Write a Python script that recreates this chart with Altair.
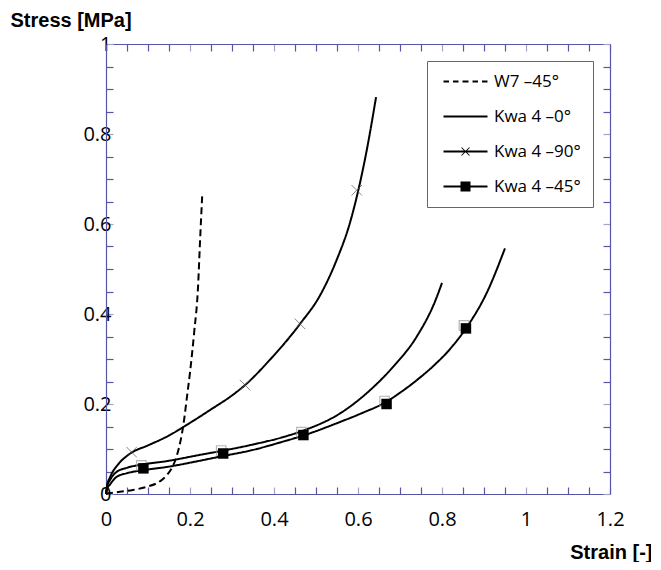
import altair as alt
import pandas as pd

# ---------------- data ----------------
series_names = ["W7 –45°", "Kwa 4 –0°", "Kwa 4 –90°", "Kwa 4 –45°"]
series_styles = ["dashed", "solid", "solid", "solid"]

w7_x = [0, 0.01, 0.033, 0.064, 0.097, 0.121, 0.135, 0.145, 0.155, 0.165, 0.173,
        0.18, 0.186, 0.192, 0.2, 0.21, 0.219, 0.224, 0.229]
w7_y = [0, 0.002, 0.005, 0.009, 0.016, 0.024, 0.033, 0.042, 0.055, 0.075, 0.1,
        0.13, 0.165, 0.21, 0.27, 0.36, 0.458, 0.564, 0.662]

k0_x = [0, 0.003, 0.0095, 0.025, 0.049, 0.089, 0.144, 0.224, 0.271, 0.35, 0.42,
        0.47, 0.557, 0.629, 0.684, 0.74, 0.783, 0.8]
k0_y = [0, 0.018, 0.031, 0.049, 0.058, 0.066, 0.073, 0.087, 0.095, 0.11, 0.126,
        0.141, 0.179, 0.231, 0.283, 0.35, 0.427, 0.469]

k90_x = [0, 0.003, 0.0095, 0.029, 0.049, 0.061, 0.1, 0.15, 0.2, 0.25, 0.3,
         0.331, 0.39, 0.462, 0.51, 0.55, 0.58, 0.6, 0.62, 0.643]
k90_y = [0, 0.02, 0.037, 0.066, 0.084, 0.092, 0.108, 0.13, 0.158, 0.188, 0.219,
         0.242, 0.298, 0.378, 0.442, 0.522, 0.6, 0.672, 0.76, 0.882]

k45_x = [0, 0.003, 0.0095, 0.025, 0.049, 0.089, 0.144, 0.224, 0.271, 0.35, 0.42,
         0.47, 0.557, 0.61, 0.664, 0.7, 0.74, 0.78, 0.819, 0.857, 0.906, 0.95]
k45_y = [0, 0.012, 0.021, 0.038, 0.046, 0.053, 0.06, 0.074, 0.083, 0.098, 0.116,
         0.13, 0.16, 0.18, 0.203, 0.225, 0.253, 0.285, 0.322, 0.368, 0.446, 0.546]

m90_x = [0.061, 0.331, 0.462, 0.597]
m90_y = [0.093, 0.242, 0.378, 0.675]

m45_x = [0.089, 0.279, 0.47, 0.668, 0.857]
m45_y = [0.057, 0.09, 0.131, 0.2, 0.368]

x_ticks = [round(i * 0.05, 2) for i in range(25)]
y_ticks = [round(i * 0.05, 2) for i in range(21)]

# ---------------- tables ----------------
rows = []
for name, style, xs, ys in zip(series_names, series_styles,
                               [w7_x, k0_x, k90_x, k45_x], [w7_y, k0_y, k90_y, k45_y]):
    for i, (a, b) in enumerate(zip(xs, ys)):
        rows.append({"series": name, "style": style, "strain": a, "stress": b, "order": i})
lines_df = pd.DataFrame(rows)
m90_df = pd.DataFrame({"strain": m90_x, "stress": m90_y})
m45_df = pd.DataFrame({"strain": m45_x, "stress": m45_y})

# ---------------- styling ----------------
FONT = "Open Sans, sans-serif"
TITLE_FONT = "Liberation Sans, Arial, sans-serif"
AXIS_BLUE = "#5656a8"
major = "abs(datum.value*5 - round(datum.value*5)) < 0.000001"
tick_color = {"condition": {"test": major, "value": "#a4a4c6"}, "value": AXIS_BLUE}
label_expr = f"({major}) ? format(datum.value, '~g') : ''"

x_scale = alt.Scale(domain=[0, 1.2], nice=False, zero=False)
y_scale = alt.Scale(domain=[0, 1], nice=False, zero=False)

common = dict(domainColor=AXIS_BLUE, domainWidth=1.2, tickColor=tick_color,
              tickWidth=1.2, tickSize={"expr": "-7"}, grid=False)

x_axis = alt.Axis(values=x_ticks, labelExpr=label_expr, labelFont=FONT, labelFontSize=20,
                  labelColor="black", labelPadding=22, labelFlush=False,
                  title="Strain [-]", titleFont=TITLE_FONT, titleFontSize=20,
                  titleFontWeight="bold", titleX=546, titleY=64, titleAlign="right",
                  titleBaseline="alphabetic", titleAnchor="end", **common)
y_axis = alt.Axis(values=y_ticks, labelExpr=label_expr, labelFont=FONT, labelFontSize=20,
                  labelColor="black", labelPadding=2, labelFlush=False,
                  title="Stress [MPa]", titleFont=TITLE_FONT, titleFontSize=20,
                  titleFontWeight="bold", titleAngle=0, titleX=-96, titleY=-18,
                  titleAlign="left", titleBaseline="alphabetic", titleAnchor="end", **common)
top_axis = alt.Axis(values=x_ticks, orient="top", labels=False, title=None, **common)
right_axis = alt.Axis(values=y_ticks, orient="right", labels=False, title=None, **common)

# legend glyphs: filled custom symbol paths (unit = sqrt(size)/2 = 5 px)
bar = "M-4.4,-0.2H4.4V0.2H-4.4Z"
p_dash = ("M-4.4,-0.2H-3.3V0.2H-4.4Z M-2.5,-0.2H-1.4V0.2H-2.5Z M-0.6,-0.2H0.6V0.2H-0.6Z "
          "M1.4,-0.2H2.5V0.2H1.4Z M3.3,-0.2H4.4V0.2H3.3Z")
p_solid = bar
p_x = bar + (" M-0.73,-0.87L0.87,0.73L0.73,0.87L-0.87,-0.73Z"
             " M-0.87,0.73L0.73,-0.87L0.87,-0.73L-0.73,0.87Z")
p_sq = bar + " M-1,-1H1V1H-1Z"

lines = alt.Chart(lines_df).mark_line(color="black", strokeWidth=2, interpolate="monotone").encode(
    x=alt.X("strain:Q", scale=x_scale, axis=x_axis),
    y=alt.Y("stress:Q", scale=y_scale, axis=y_axis),
    detail="series:N",
    order="order:Q",
    strokeDash=alt.StrokeDash("style:N", scale=alt.Scale(domain=["dashed", "solid"],
                              range=[[7, 4], [1, 0]]), legend=None),
)

legend_layer = alt.Chart(lines_df).mark_point(
    filled=True, color="black", opacity=0.001
).encode(
    x=alt.X("strain:Q", scale=x_scale, axis=top_axis),
    y=alt.Y("stress:Q", scale=y_scale, axis=right_axis),
    shape=alt.Shape("series:N", scale=alt.Scale(domain=series_names,
                    range=[p_dash, p_solid, p_x, p_sq]),
                    legend=alt.Legend(title=None, orient="top-right", offset=17,
                                      strokeColor="#666666", fillColor="white", padding=12,
                                      rowPadding=17, symbolSize=100, symbolOffset=18,
                                      labelOffset=20, labelFont=FONT, labelFontSize=17,
                                      labelColor="black", symbolFillColor="black",
                                      symbolStrokeWidth=0, symbolOpacity=1)),
)

x_mark = "M-1,-1L1,1M-1,1L1,-1"
m90 = alt.Chart(m90_df).mark_point(shape=x_mark, filled=False, color="#555555",
                                    strokeWidth=1, size=110).encode(
    x=alt.X("strain:Q", scale=x_scale, axis=None),
    y=alt.Y("stress:Q", scale=y_scale, axis=None),
)
m45_grey = alt.Chart(m45_df).mark_point(shape="square", filled=False, color="#999999",
                                         strokeWidth=1.2, size=90, xOffset=-2, yOffset=-3).encode(
    x=alt.X("strain:Q", scale=x_scale, axis=None),
    y=alt.Y("stress:Q", scale=y_scale, axis=None),
)
m45 = alt.Chart(m45_df).mark_point(shape="square", filled=True, color="black",
                                    opacity=1, size=110).encode(
    x=alt.X("strain:Q", scale=x_scale, axis=None),
    y=alt.Y("stress:Q", scale=y_scale, axis=None),
)

chart = alt.layer(lines, legend_layer, m90, m45_grey, m45).resolve_axis(
    x="independent", y="independent"
).properties(
    width=504, height=450,
    autosize=alt.AutoSizeParams(type="none"),
    padding={"left": 98, "top": 36, "right": 41, "bottom": 68},
).configure_view(stroke=None)

chart.save("out.html", embed_options={"renderer": "svg", "actions": False})
